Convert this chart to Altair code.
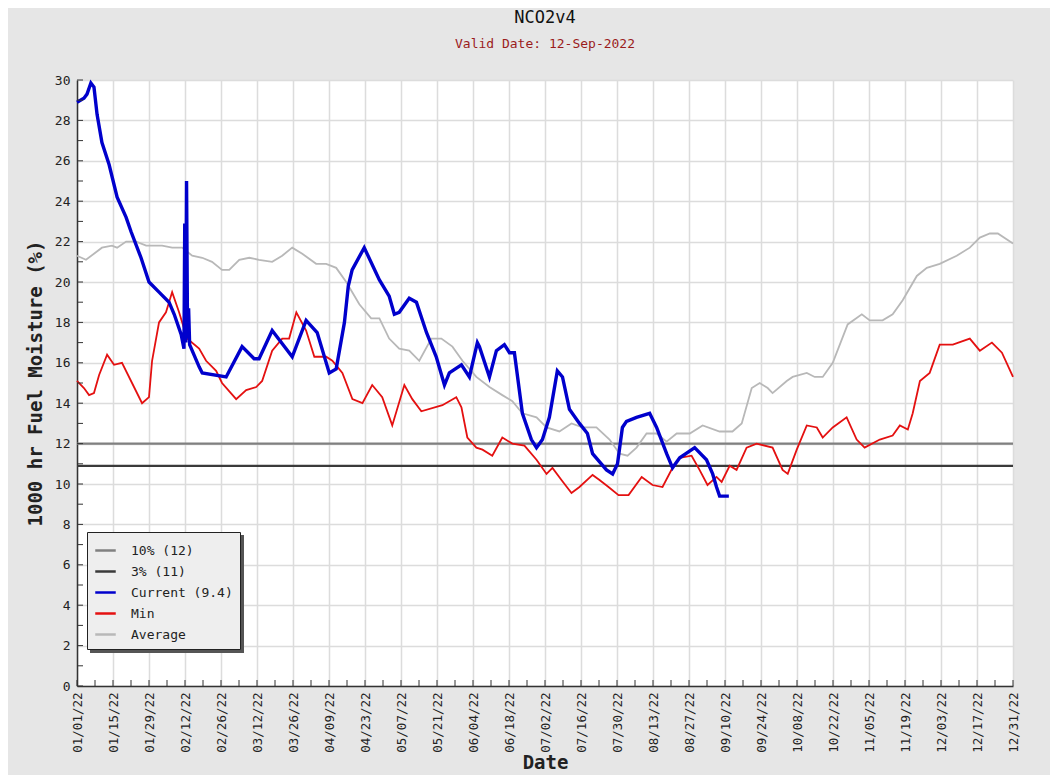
import altair as alt
import pandas as pd

# ---------------- data ----------------
start = pd.Timestamp("2022-01-01")

cur_day = [0, 2.7, 3.9, 5.4, 6.6, 7.8, 9.7, 12.5, 15.6, 19.1, 21.0, 24.9, 28.0, 31.9, 35.8, 37.8,
           40.5, 41.6, 41.9, 42.3, 42.6, 43.0, 43.4, 43.8, 47.5, 48.7, 58.0, 64.2, 68.9, 70.8, 75.9,
           83.7, 89.1, 93.4, 98.1, 100.8, 104.0, 105.5, 107.0, 111.7, 117.6, 121.4, 123.4, 125.3,
           129.2, 132.0, 135.9, 139.7, 142.9, 144.8, 149.5, 152.6, 155.7, 156.5, 160.4, 163.1, 166.2,
           168.2, 170.1, 173.2, 176.7, 178.7, 181.0, 183.7, 186.8, 188.8, 191.5, 195.4, 198.5, 200.5,
           205.9, 208.3, 210.2, 212.1, 213.7, 217.6, 222.7, 225.4, 229.3, 231.6, 234.4, 240.2, 244.8,
           247.2, 248.7, 249.9, 253.5]
cur_val = [28.9, 29.1, 29.3, 29.85, 29.65, 28.3, 26.9, 25.8, 24.2, 23.2, 22.5, 21.2, 20.0, 19.5, 19.0,
           18.4, 17.4, 16.7, 22.9, 17.0, 25.0, 17.2, 18.7, 16.9, 15.8, 15.5, 15.3, 16.8, 16.2, 16.2,
           17.6, 16.3, 18.1, 17.5, 15.5, 15.7, 18.0, 19.8, 20.6, 21.7, 20.1, 19.3, 18.4, 18.5, 19.2,
           19.0, 17.5, 16.3, 14.9, 15.5, 15.9, 15.3, 17.0, 16.8, 15.3, 16.6, 16.9, 16.5, 16.5, 13.5,
           12.2, 11.8, 12.2, 13.3, 15.6, 15.3, 13.7, 13.0, 12.5, 11.5, 10.7, 10.5, 11.0, 12.8, 13.1,
           13.3, 13.5, 12.8, 11.5, 10.8, 11.3, 11.8, 11.2, 10.5, 9.85, 9.4, 9.4]

min_day = [0, 2.7, 4.7, 6.6, 8.6, 11.7, 14.4, 17.5, 21.4, 25.3, 28.0, 29.2, 31.9, 34.6, 37.0, 39.7,
           42.8, 47.5, 50.2, 54.1, 56.4, 61.9, 65.8, 69.7, 72.0, 75.9, 79.8, 82.5, 85.3, 89.1, 92.3,
           96.9, 99.3, 103.2, 107.1, 111.0, 114.8, 118.7, 122.6, 127.3, 130.4, 133.9, 142.1, 147.5,
           149.5, 151.8, 155.3, 157.7, 161.5, 165.4, 169.3, 174.0, 178.7, 182.6, 184.9, 188.4, 192.3,
           195.4, 200.5, 203.2, 206.7, 210.6, 214.5, 219.6, 223.8, 227.7, 231.6, 234.4, 239.0, 242.1,
           245.2, 248.7, 250.7, 253.8, 256.5, 260.4, 264.3, 270.5, 274.4, 276.4, 279.9, 283.8, 287.7,
           290.0, 293.9, 299.3, 303.2, 306.3, 312.2, 317.2, 320.0, 323.1, 325.0, 327.8, 331.6, 335.5,
           340.6, 347.2, 351.1, 355.8, 359.7, 364.0]
min_val = [15.1, 14.75, 14.4, 14.5, 15.4, 16.4, 15.9, 16.0, 15.0, 14.0, 14.3, 16.1, 18.0, 18.5, 19.5,
           18.5, 17.2, 16.7, 16.1, 15.6, 15.0, 14.2, 14.65, 14.8, 15.1, 16.6, 17.2, 17.2, 18.5, 17.6,
           16.3, 16.3, 16.1, 15.5, 14.2, 14.0, 14.9, 14.3, 12.9, 14.9, 14.2, 13.6, 13.9, 14.3, 13.8,
           12.3, 11.8, 11.7, 11.4, 12.3, 12.0, 11.9, 11.2, 10.5, 10.8, 10.2, 9.55, 9.85, 10.45, 10.2,
           9.85, 9.45, 9.45, 10.35, 9.95, 9.85, 10.8, 11.3, 11.4, 10.7, 9.95, 10.35, 10.1, 10.9, 10.7,
           11.8, 12.0, 11.8, 10.7, 10.5, 11.7, 12.9, 12.8, 12.3, 12.8, 13.3, 12.2, 11.8, 12.2, 12.4,
           12.9, 12.7, 13.5, 15.1, 15.5, 16.9, 16.9, 17.2, 16.6, 17.0, 16.5, 15.3]

avg_day = [0, 3.5, 9.7, 13.6, 15.6, 19.1, 23.0, 26.9, 33.1, 37.0, 40.9, 44.8, 48.7, 52.5, 56.4, 59.2,
           63.1, 67.0, 70.8, 75.9, 79.8, 83.7, 87.6, 93.0, 96.9, 100.8, 104.7, 109.8, 114.4, 117.6,
           121.4, 125.3, 129.2, 133.1, 137.8, 141.7, 146.0, 149.9, 155.3, 160.4, 165.4, 169.3, 173.2,
           178.7, 182.6, 187.6, 192.3, 196.6, 202.0, 207.1, 211.0, 214.1, 217.6, 221.5, 225.4, 229.3,
           233.2, 238.3, 243.3, 249.9, 254.9, 258.5, 262.4, 265.5, 268.6, 270.5, 276.0, 278.3, 283.8,
           286.9, 290.0, 293.9, 299.7, 305.2, 308.3, 313.3, 317.2, 321.1, 326.6, 330.5, 335.5, 342.1,
           347.2, 351.1, 355.0, 358.1, 364.0]
avg_val = [21.3, 21.1, 21.7, 21.8, 21.7, 22.0, 22.0, 21.8, 21.8, 21.7, 21.7, 21.3, 21.2, 21.0, 20.6,
           20.6, 21.1, 21.2, 21.1, 21.0, 21.3, 21.7, 21.4, 20.9, 20.9, 20.7, 20.0, 18.9, 18.2, 18.2,
           17.2, 16.7, 16.6, 16.1, 17.2, 17.2, 16.8, 16.1, 15.3, 14.8, 14.4, 14.1, 13.5, 13.3, 12.8,
           12.6, 13.0, 12.8, 12.8, 12.2, 11.5, 11.4, 11.8, 12.5, 12.5, 12.1, 12.5, 12.5, 12.9, 12.6,
           12.6, 13.0, 14.75, 15.0, 14.75, 14.5, 15.1, 15.3, 15.5, 15.3, 15.3, 16.0, 17.9, 18.4, 18.1,
           18.1, 18.4, 19.1, 20.3, 20.7, 20.9, 21.3, 21.7, 22.2, 22.4, 22.4, 21.9]

thr_names = ["10% (12)", "3% (11)"]
thr_vals = [12.0, 10.9]

series_names = ["10% (12)", "3% (11)", "Current (9.4)", "Min", "Average"]
series_colors = ["#808080", "#3a3a3a", "#0000cc", "#e41010", "#b8b8b8"]

y_tick_values = list(range(0, 31))
y_label_values = list(range(0, 31, 2))
x_tick_days = list(range(0, 365, 7))
x_label_days = list(range(0, 365, 14))


def frame(days, vals, name):
    return pd.DataFrame({
        "date": [start + pd.Timedelta(days=d) for d in days],
        "value": vals,
        "series": name,
    })


cur_df = frame(cur_day, cur_val, "Current (9.4)")
min_df = frame(min_day, min_val, "Min")
avg_df = frame(avg_day, avg_val, "Average")
thr_df = pd.DataFrame({"value": thr_vals, "series": thr_names})
ytick_df = pd.DataFrame({"value": y_tick_values})
xtick_df = pd.DataFrame({"date": [start + pd.Timedelta(days=d) for d in x_tick_days]})
box_df = pd.DataFrame({"k": [0]})


def dt(ts):
    return alt.DateTime(year=ts.year, month=ts.month, date=ts.day)


x_label_dates = [dt(start + pd.Timedelta(days=d)) for d in x_label_days]
end = start + pd.Timedelta(days=364)

MONO = "DejaVu Sans Mono"

x_enc = alt.X(
    "date:T",
    scale=alt.Scale(domain=[dt(start), dt(end)]),
    axis=alt.Axis(values=x_label_dates, format="%m/%d/%y", labelAngle=270,
                  labelPadding=6, labelFontSize=12.5, titlePadding=1),
    title="Date",
)
y_enc = alt.Y(
    "value:Q",
    scale=alt.Scale(domain=[0, 30], nice=False, zero=False),
    axis=alt.Axis(values=y_label_values, labelPadding=7, titlePadding=9),
    title="1000 hr Fuel Moisture (%)",
)
color_enc = alt.Color(
    "series:N",
    scale=alt.Scale(domain=series_names, range=series_colors),
    legend=alt.Legend(title=None, orient="none", legendX=10, legendY=452,
                      direction="vertical"),
)

shadow = alt.Chart(box_df).mark_rect(color="#555555").encode(
    x=alt.value(13), x2=alt.value(167), y=alt.value(455), y2=alt.value(573)
)
yticks = alt.Chart(ytick_df).mark_rule(color="#333333", strokeWidth=1).encode(
    y=y_enc, x=alt.value(0), x2=alt.value(6)
)
xticks = alt.Chart(xtick_df).mark_rule(color="#333333", strokeWidth=1).encode(
    x=x_enc, y=alt.value(606), y2=alt.value(600)
)
thr = alt.Chart(thr_df).mark_rule(strokeWidth=2.2).encode(y=y_enc, color=color_enc)
avg = alt.Chart(avg_df).mark_line(strokeWidth=1.8).encode(x=x_enc, y=y_enc, color=color_enc)
mn = alt.Chart(min_df).mark_line(strokeWidth=1.8).encode(x=x_enc, y=y_enc, color=color_enc)
cur = alt.Chart(cur_df).mark_line(strokeWidth=3.4).encode(x=x_enc, y=y_enc, color=color_enc)

chart = alt.layer(shadow, thr, avg, mn, cur, yticks, xticks).properties(
    width=936,
    height=606,
    autosize=alt.AutoSizeParams(type="none"),
    padding={"left": 69, "top": 72, "right": 37, "bottom": 89},
    title=alt.TitleParams(
        "NCO2v4",
        subtitle="Valid Date: 12-Sep-2022",
        font=MONO, fontSize=17, fontWeight="normal", color="#111111",
        subtitleFont=MONO, subtitleFontSize=13, subtitleColor="#9b1c1c",
        subtitlePadding=11, anchor="middle", frame="group", offset=22,
    ),
).configure(
    background="#e6e6e6",
).configure_view(
    fill="white", stroke="transparent",
).configure_axis(
    domainColor="#333333", domainWidth=1.5, ticks=False,
    gridColor="#dcdcdc", gridWidth=1.5,
    labelFont=MONO, labelFontSize=13, labelColor="#222222",
    titleFont=MONO, titleFontSize=19, titleFontWeight="bold", titleColor="#222222",
).configure_legend(
    fillColor="#eeeeee", strokeColor="#222222", padding=7,
    symbolType="stroke", symbolSize=420, symbolStrokeWidth=2.5,
    labelFont=MONO, labelFontSize=13, labelColor="#222222", labelOffset=14,
    rowPadding=2,
)

chart.save("out.html", embed_options={"renderer": "svg", "actions": False})
